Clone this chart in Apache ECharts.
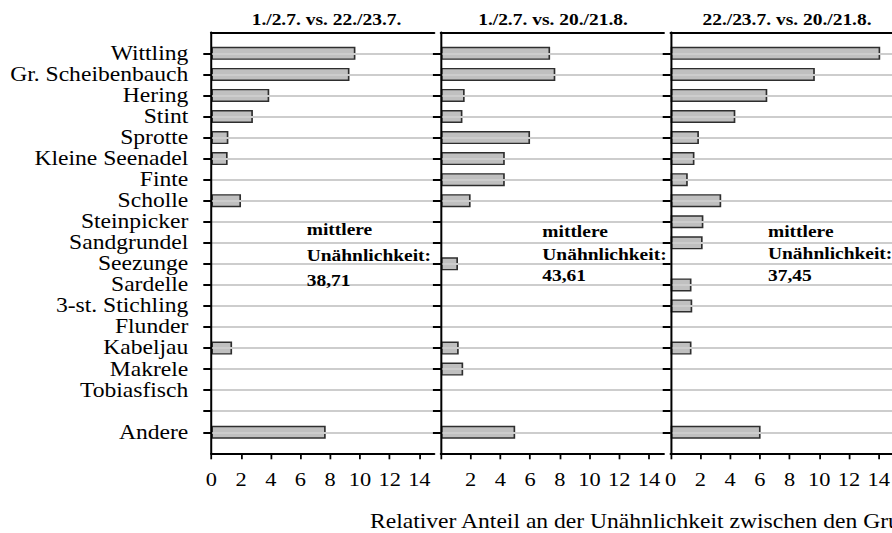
<!DOCTYPE html>
<html>
<head>
<meta charset="utf-8">
<script src="https://cdn.jsdelivr.net/npm/echarts@6/dist/echarts.min.js"></script>
<style>
  html, body { margin: 0; padding: 0; background: #fff; overflow: hidden; width: 892px; height: 533px; }
  #chart { width: 760px; height: 533px; transform: scaleX(1.18); transform-origin: 0 0; }
</style>
</head>
<body>
<div id="chart"></div>
<script>
// Species rows (top to bottom); the empty entry is a spacer row before "Andere"
const categories = ['Wittling', 'Gr. Scheibenbauch', 'Hering', 'Stint', 'Sprotte',
  'Kleine Seenadel', 'Finte', 'Scholle', 'Steinpicker', 'Sandgrundel', 'Seezunge',
  'Sardelle', '3-st. Stichling', 'Flunder', 'Kabeljau', 'Makrele', 'Tobiasfisch', '', 'Andere'];

// Relative contribution (%) to dissimilarity for each pair of sampling dates
const jul1VsJul22 = [9.7, 9.3, 3.9, 2.8, 1.15, 1.1, 0, 2.0, 0, 0, 0, 0, 0, 0, 1.4, 0, 0, null, 7.7];
const jul1VsAug20 = [7.35, 7.7, 1.6, 1.45, 6.0, 4.3, 4.3, 2.0, 0, 0, 1.15, 0, 0, 0, 1.2, 1.5, 0, null, 5.0];
const jul22VsAug20 = [14.1, 9.7, 6.5, 4.35, 1.9, 1.6, 1.15, 3.4, 2.2, 2.15, 0, 1.4, 1.45, 0, 1.4, 0, 0, null, 6.05];

const panelTitles = ['1./2.7. vs. 22./23.7.', '1./2.7. vs. 20./21.8.', '22./23.7. vs. 20./21.8.'];
const meanDissimilarity = ['38,71', '43,61', '37,45'];
const xTicks = [0, 2, 4, 6, 8, 10, 12, 14];
const xAxisTitle = 'Relativer Anteil an der Unähnlichkeit zwischen den Gruppen';

// The drawing is stretched horizontally by CSS; layout below is given in screen pixels
const S = 1.18;
const sx = v => v / S;
const SERIF = '"Liberation Serif", "Times New Roman", serif';

const panelData = [jul1VsJul22, jul1VsAug20, jul22VsAug20];
const panelLeft = [211.3, 440.9, 670.7];
const panelWidth = 222.9;
const gridTop = 32.3, gridHeight = 421;

// one empty slot above and below the rows so the frame leaves a full row of space
const axisCats = [''].concat(categories, ['']);
const lastIdx = axisCats.length - 1;
const inner = (idx) => idx > 0 && idx < lastIdx;

const grids = panelLeft.map(l => ({ left: sx(l), top: gridTop, width: sx(panelWidth), height: gridHeight }));

const bottomAxes = panelLeft.map((l, i) => ({
  type: 'value', gridIndex: i, position: 'bottom', min: 0, max: 15,
  axisLine: { show: true, lineStyle: { color: '#000', width: 2 } },
  axisTick: { show: true, length: 6, customValues: xTicks, lineStyle: { color: '#000', width: 1.5 } },
  axisLabel: {
    show: true, customValues: i === 1 ? xTicks.filter(v => v !== 0) : xTicks,
    fontFamily: SERIF, fontSize: 19, color: '#000', margin: 16
  },
  splitLine: { show: false }
}));
const topAxes = panelLeft.map((l, i) => ({
  type: 'value', gridIndex: i, position: 'top', min: 0, max: 15,
  axisLine: { show: true, lineStyle: { color: '#000', width: 2 } },
  axisTick: { show: false }, axisLabel: { show: false }, splitLine: { show: false }
}));

const yAxes = panelLeft.map((l, i) => ({
  type: 'category', gridIndex: i, data: axisCats, inverse: true, boundaryGap: false, z: 3,
  axisLine: { show: true, onZero: false, lineStyle: { color: '#000', width: 1.7 } },
  axisTick: { show: true, interval: inner, length: sx(8), lineStyle: { color: '#000', width: 2 } },
  axisLabel: {
    show: i === 0, interval: inner, fontFamily: SERIF, fontSize: 20, color: '#000', margin: sx(23)
  },
  splitLine: { show: true, interval: inner, lineStyle: { color: '#cdcdcd', width: 2 } }
}));

const series = panelData.map((vals, i) => ({
  type: 'bar', xAxisIndex: i, yAxisIndex: i, barWidth: 13, silent: true,
  data: [null].concat(vals.map(v => (v ? v : null)), [null]),
  itemStyle: { color: '#c0c0c0', borderColor: '#2e2e2e', borderWidth: 1.4 }
}));

// Panel headings, mean-dissimilarity notes and the shared axis caption
const titleCenters = [326.5, 553, 787];
const noteLeft = [306.7, 542.3, 768];
const noteRows = [[230, 255.5, 281], [231.7, 254.3, 276], [231.7, 253.3, 276]];
const graphics = [];
panelTitles.forEach((t, i) => {
  graphics.push({ type: 'text', x: sx(titleCenters[i]), y: 20, silent: true,
    style: { text: t, fontFamily: SERIF, fontSize: 16.5, fontWeight: 'bold', fill: '#000', align: 'center', verticalAlign: 'middle' } });
  const lines = ['mittlere', 'Unähnlichkeit:', meanDissimilarity[i]];
  lines.forEach((ln, k) => {
    graphics.push({ type: 'text', x: sx(noteLeft[i]), y: noteRows[i][k], silent: true, z: 10,
      style: { text: ln, fontFamily: SERIF, fontSize: 16.5, fontWeight: 'bold', fill: '#000', align: 'left', verticalAlign: 'middle' } });
  });
});
graphics.push({ type: 'text', x: sx(370), y: 522, silent: true,
  style: { text: xAxisTitle, fontFamily: SERIF, fontSize: 20, fill: '#000', align: 'left', verticalAlign: 'middle' } });

const chart = echarts.init(document.getElementById('chart'), null, { renderer: 'svg' });
chart.setOption({
  animation: false,
  backgroundColor: '#fff',
  grid: grids,
  xAxis: bottomAxes.concat(topAxes),
  yAxis: yAxes,
  series: series,
  graphic: graphics
});
</script>
</body>
</html>
